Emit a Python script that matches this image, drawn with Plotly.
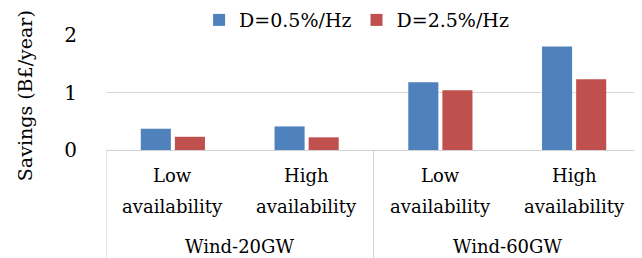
import plotly.graph_objects as go

groups = ["Wind-20GW", "Wind-20GW", "Wind-60GW", "Wind-60GW"]
scen_top = ["Low", "High", "Low", "High"]
scen_bottom = ["availability", "availability", "availability", "availability"]
series_names = ["D=0.5%/Hz", "D=2.5%/Hz"]
d05 = [0.37, 0.41, 1.18, 1.80]
d25 = [0.23, 0.22, 1.04, 1.23]
colors = ["#4f81bd", "#c0504d"]
y_ticks = [0, 1, 2]
y_title = "Savings (B£/year)"

FONT = "DejaVu Serif, Liberation Serif, serif"
cats = [f"{g} {a} {b}" for g, a, b in zip(groups, scen_top, scen_bottom)]

fig = go.Figure()
for name, vals, col in zip(series_names, [d05, d25], colors):
    fig.add_trace(go.Bar(x=cats, y=vals, name=name,
                         marker=dict(color=col, line=dict(width=0))))

# category labels drawn as annotations (for exact two-line spacing)
ann = []
for i, (a, b) in enumerate(zip(scen_top, scen_bottom)):
    ann.append(dict(x=cats[i], y=-0.226, xref="x", yref="paper", text=a, showarrow=False,
                    xanchor="center", yanchor="middle", font=dict(size=18)))
    ann.append(dict(x=cats[i], y=-0.487, xref="x", yref="paper", text=b, showarrow=False,
                    xanchor="center", yanchor="middle", font=dict(size=18)))
uniq = list(dict.fromkeys(groups))
shapes = []
for g in uniq:
    idx = [i for i, gg in enumerate(groups) if gg == g]
    ann.append(dict(x=(idx[0] + idx[-1]) / 2, y=-0.843, xref="x", yref="paper", text=g,
                    showarrow=False, xanchor="center", yanchor="middle", font=dict(size=18)))
    for xb in (idx[0] - 0.5, idx[-1] + 0.5):
        shapes.append(dict(type="line", xref="x", yref="paper", x0=xb, x1=xb, y0=0, y1=-1,
                           line=dict(color="#d0d0d0", width=1), layer="below"))
# y-axis title
ann.append(dict(x=-0.151, y=0.47, xref="paper", yref="paper", text=y_title, textangle=-90,
                showarrow=False, xanchor="center", yanchor="middle", font=dict(size=19)))

fig.update_layout(
    width=642, height=258,
    margin=dict(l=98, r=9, t=27, b=116, autoexpand=False),
    paper_bgcolor="white", plot_bgcolor="white",
    font=dict(family=FONT, size=18, color="black"),
    barmode="group", bargap=0.49, bargroupgap=0.118,
    showlegend=True,
    legend=dict(orientation="h", x=0.174, y=1.13, xanchor="left", yanchor="middle",
                font=dict(size=19), bgcolor="rgba(0,0,0,0)", traceorder="normal"),
    annotations=ann,
    shapes=shapes,
)
fig.update_yaxes(range=[0, 2], tickvals=y_ticks, showgrid=True, gridcolor="#d9d9d9",
                 gridwidth=1, zeroline=False, showline=False, ticklabelstandoff=28,
                 tickfont=dict(size=20), automargin=False)
fig.update_xaxes(type="category", showline=True, linecolor="#d0d0d0", linewidth=1,
                 showticklabels=False, ticks="", automargin=False, range=[-0.5, 3.5])

fig.write_html("out.html")
